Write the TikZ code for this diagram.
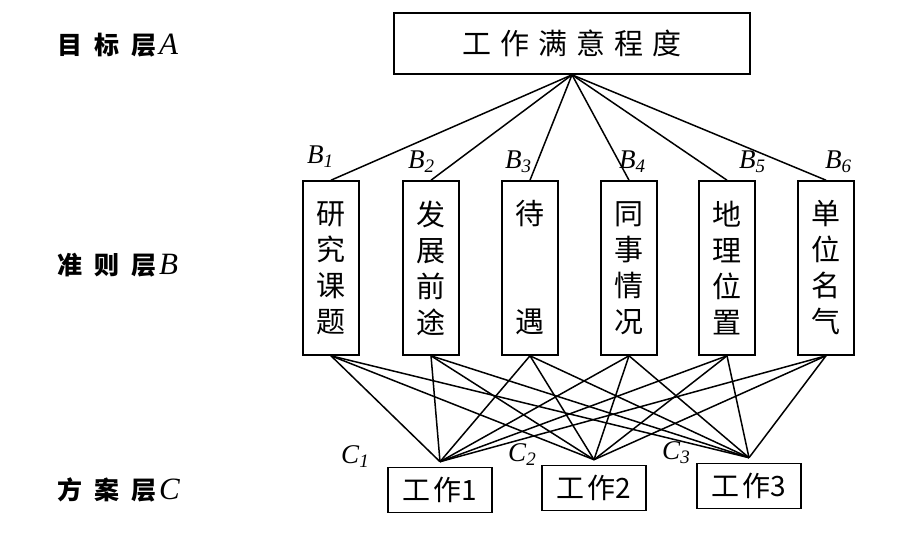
\documentclass[tikz,border=0pt]{standalone}
\usepackage{fontspec}
\setmainfont{Liberation Serif}
\newfontfamily\cjk{Noto Sans CJK SC}
\newcommand{\sublab}[2]{\textit{#1}\raisebox{-4pt}{\fontsize{19}{19}\selectfont\textit{#2}}}
\newcommand{\laylet}[1]{\hspace{3pt}{\rmfamily\mdseries\itshape\fontsize{31}{31}\selectfont #1}}
\begin{document}
\begin{tikzpicture}[x=1pt,y=-1pt,
  bbox/.style={draw, line width=1.6pt, inner sep=0pt},
  conn/.style={line width=1.5pt},
  bvert/.style={bbox, minimum width=56pt, minimum height=174pt, align=center,
    font=\cjk\fontsize{29}{36}\selectfont},
  cbox/.style={bbox, minimum width=104pt, minimum height=45pt,
    font=\cjk\fontsize{28}{28}\selectfont},
  layer/.style={anchor=west, inner sep=0pt, font=\cjk\bfseries\fontsize{25}{25}\selectfont},
  lab/.style={inner sep=0pt, font=\fontsize{27}{27}\selectfont}]
\useasboundingbox (0,0) rectangle (904,544);

% layer labels
\node[layer] (LA) at (57,45) {目\hspace{12pt}标\hspace{12pt}层\laylet{A}};
\node[layer] (LB) at (57,265) {准\hspace{12pt}则\hspace{12pt}层\laylet{B}};
\node[layer] (LC) at (57,490) {方\hspace{12pt}案\hspace{12pt}层\laylet{C}};

% goal
\node[bbox, minimum width=356pt, minimum height=61pt,
  font=\cjk\fontsize{29}{30}\selectfont] (A) at (572,43.5)
  {工\hspace{9pt}作\hspace{9pt}满\hspace{9pt}意\hspace{9pt}程\hspace{9pt}度};

% criteria
\node[bvert] (B1) at (331,268) {研\\究\\课\\题};
\node[bvert] (B2) at (431,268) {发\\展\\前\\途};
\node[bvert] (B3) at (530,268) {待\\[72pt]遇};
\node[bvert] (B4) at (629,268) {同\\事\\情\\况};
\node[bvert] (B5) at (727,268) {地\\理\\位\\置};
\node[bvert] (B6) at (826,268) {单\\位\\名\\气};

\node[lab] (b1) at (320,157) {\sublab{B}{1}};
\node[lab] (b2) at (421,162) {\sublab{B}{2}};
\node[lab] (b3) at (518,162) {\sublab{B}{3}};
\node[lab] (b4) at (632,162) {\sublab{B}{4}};
\node[lab] (b5) at (752,162) {\sublab{B}{5}};
\node[lab] (b6) at (838,162) {\sublab{B}{6}};

% alternatives
\node[cbox] (C1) at (440,490) {工\hspace{3pt}作1};
\node[cbox] (C2) at (594,488) {工\hspace{3pt}作2};
\node[cbox] (C3) at (749,486) {工\hspace{3pt}作3};

\node[lab] (c1) at (355,457) {\sublab{C}{1}};
\node[lab] (c2) at (522,455) {\sublab{C}{2}};
\node[lab] (c3) at (676,453) {\sublab{C}{3}};

\coordinate (p1) at ([yshift=5pt]C1.north);
\coordinate (p2) at ([yshift=5pt]C2.north);
\coordinate (p3) at ([yshift=5pt]C3.north);

\foreach \b in {B1,B2,B3,B4,B5,B6} {
  \draw[conn] (A.south) -- (\b.north);
  \foreach \p in {p1,p2,p3} \draw[conn] (\b.south) -- (\p);
}
\end{tikzpicture}
\end{document}
